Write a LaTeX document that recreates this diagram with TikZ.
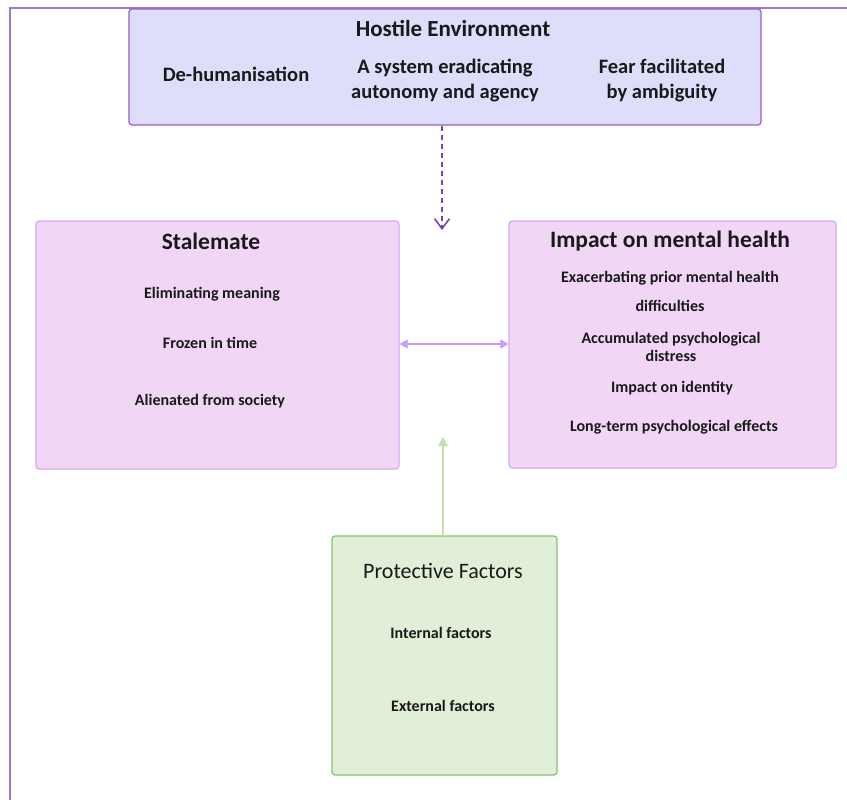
\documentclass[tikz,border=0pt]{standalone}
\usepackage{fontspec}
\setmainfont{Carlito}
\usetikzlibrary{arrows.meta}
\definecolor{frameC}{HTML}{9A7AD6}
\definecolor{hostFill}{HTML}{DEDDFA}
\definecolor{hostDraw}{HTML}{9A5CC8}
\definecolor{pinkFill}{HTML}{F1D6F6}
\definecolor{pinkDraw}{HTML}{D6A8F4}
\definecolor{greenFill}{HTML}{E1EED8}
\definecolor{greenDraw}{HTML}{85C46C}
\definecolor{dashC}{HTML}{7A40B0}
\definecolor{dblC}{HTML}{C99DF5}
\definecolor{grArrC}{HTML}{C5E1B3}
\tikzset{
  boxbase/.style={rounded corners=3pt, line width=1.2pt, inner sep=0pt},
  title/.style={font=\fontsize{23.5}{26}\selectfont\bfseries, text=black!90, align=center},
  htitle/.style={font=\fontsize{23}{26}\selectfont\bfseries, text=black!90, align=center},
  ptitle/.style={font=\fontsize{22}{26}\selectfont, text=black!90, align=center},
  hitem/.style={font=\fontsize{20.5}{25}\selectfont\bfseries, text=black!90, align=center},
  item/.style={font=\fontsize{16}{18}\selectfont\bfseries, text=black!90, align=center},
}
\begin{document}
\begin{tikzpicture}[x=1pt,y=-1pt]
\useasboundingbox (0,0) rectangle (847,800);
% outer frame
\draw[frameC, line width=1.2pt] (10,800) -- (10,8) -- (847,8);
% boxes
\node[boxbase, draw=hostDraw, fill=hostFill, minimum width=632pt, minimum height=116pt] (host) at (445,67) {};
\node[boxbase, draw=pinkDraw, fill=pinkFill, minimum width=363pt, minimum height=248pt] (stale) at (217.5,345) {};
\node[boxbase, draw=pinkDraw, fill=pinkFill, minimum width=327pt, minimum height=247pt] (impact) at (672.5,344.5) {};
\node[boxbase, draw=greenDraw, fill=greenFill, minimum width=225pt, minimum height=239pt] (prot) at (444.5,655.5) {};
% hostile texts
\node[htitle] (hT) at (453,28) {Hostile Environment};
\node[hitem] (h1) at (236,74) {De-humanisation};
\node[hitem] (h2) at (445,81) {A system eradicating\\autonomy and agency};
\node[hitem] (h3) at (662,81) {Fear facilitated\\by ambiguity};
% stalemate texts
\node[title] (sT) at (211,241) {Stalemate};
\node[item] (s1) at (212,294) {Eliminating meaning};
\node[item] (s2) at (210,343) {Frozen in time};
\node[item] (s3) at (210,401) {Alienated from society};
% impact texts
\node[title] (iT) at (670,241) {Impact on mental health};
\node[item] (i1) at (670,278) {Exacerbating prior mental health};
\node[item] (i2) at (670,306) {difficulties};
\node[item] (i3) at (671,347) {Accumulated psychological\\distress};
\node[item] (i4) at (672,388) {Impact on identity};
\node[item] (i5) at (674,427) {Long-term psychological effects};
% protective texts
\node[ptitle] (pT) at (443,571) {Protective Factors};
\node[item] (p1) at (441,633) {Internal factors};
\node[item] (p2) at (443,706) {External factors};
% connectors
\coordinate (dashEnd) at (442,230);
\draw[dashC, line width=1.2pt, dash pattern=on 5pt off 4pt, -{Straight Barb[length=10pt, width=15pt, line width=1.6pt]}] (host.south -| dashEnd) -- (dashEnd);
\draw[dblC, line width=1.2pt, {Triangle[length=8pt,width=9pt]}-{Triangle[length=8pt,width=9pt]}] (stale.east |- 0,344) -- (impact.west |- 0,344);
\coordinate (grEnd) at (443,437);
\draw[grArrC, line width=1.2pt, -{Triangle[length=9pt,width=10pt]}] (prot.north -| grEnd) -- (grEnd);
\end{tikzpicture}
\end{document}
